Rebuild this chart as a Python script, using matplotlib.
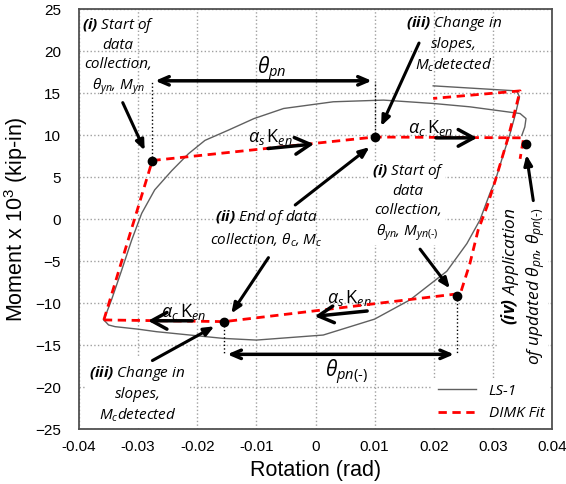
import matplotlib.pyplot as plt
from matplotlib.lines import Line2D

# LS-1 test data
ls1_up_x = [-0.0358, -0.0345, -0.0328, -0.0311, -0.0294, -0.0272, -0.0243, -0.0215, -0.0187,
            -0.0148, -0.0104, -0.0054, 0.0030, 0.0115, 0.0199, 0.0261, 0.0346, 0.0356, 0.0354, 0.0349]
ls1_up_y = [-12.0, -9.6, -6.1, -2.5, 0.7, 3.5, 5.8, 7.8, 9.4,
            10.6, 12.0, 13.2, 14.0, 14.2, 13.8, 13.4, 12.6, 12.0, 11.0, 10.0]
ls1_lo_x = [-0.0358, -0.0350, -0.0339, -0.0300, -0.0269, -0.0156, -0.0100, 0.0013, 0.0100,
            0.0160, 0.0222, 0.0256, 0.0278, 0.0295, 0.0304, 0.0318, 0.0329, 0.0338, 0.0345,
            0.0340, 0.0199]
ls1_lo_y = [-12.0, -12.6, -12.8, -13.1, -13.4, -14.2, -14.4, -13.8, -11.9,
            -9.6, -6.2, -2.9, -0.1, 3.1, 4.6, 7.8, 10.2, 12.5, 14.6,
            15.3, 15.9]

# DIMK fit
dimk_up_x = [-0.0358, -0.0276, 0.0100, 0.0352, 0.0346]
dimk_up_y = [-12.0, 7.0, 9.8, 9.7, 7.2]
dimk_lo_x = [-0.0358, -0.0154, 0.0245, 0.0261, 0.0275, 0.0290, 0.0304, 0.0326, 0.0346, 0.0199]
dimk_lo_y = [-12.0, -12.2, -8.85, -5.3, -1.3, 1.5, 4.6, 9.8, 15.3, 14.4]

# key points
pts_x = [-0.0276, 0.0100, -0.0154, 0.0239, 0.0356]
pts_y = [7.0, 9.8, -12.2, -9.1, 9.0]

xticks = [-0.04, -0.03, -0.02, -0.01, 0, 0.01, 0.02, 0.03, 0.04]
xticklabels = ['-0.04', '-0.03', '-0.02', '-0.01', '0', '0.01', '0.02', '0.03', '0.04']
yticks = [-25, -20, -15, -10, -5, 0, 5, 10, 15, 20, 25]

plt.rcParams['font.family'] = ['Liberation Sans', 'DejaVu Sans']
plt.rcParams['mathtext.fontset'] = 'custom'
plt.rcParams['mathtext.rm'] = 'Open Sans'
plt.rcParams['mathtext.it'] = 'Open Sans:italic'
plt.rcParams['mathtext.bf'] = 'Open Sans:italic:bold'

fig = plt.figure(figsize=(5.66, 4.84), dpi=100)
ax = fig.add_axes([0.1396, 0.1136, 0.8357, 0.8668])

ax.plot(ls1_up_x, ls1_up_y, color='#606060', lw=1.0, zorder=3)
ax.plot(ls1_lo_x, ls1_lo_y, color='#606060', lw=1.0, zorder=3)
ax.plot(dimk_up_x, dimk_up_y, color='red', lw=2, ls=(0, (3, 2)), zorder=4)
ax.plot(dimk_lo_x, dimk_lo_y, color='red', lw=2, ls=(0, (3, 2)), zorder=4)
ax.plot(pts_x, pts_y, 'o', color='black', ms=6, zorder=6)

ax.set_xlim(-0.04, 0.04)
ax.set_ylim(-25, 25)
ax.set_xticks(xticks)
ax.set_xticklabels(xticklabels)
ax.set_yticks(yticks)
ax.tick_params(length=0, labelsize=11)
ax.tick_params(axis='x', pad=8)
ax.tick_params(axis='y', pad=13)
ax.grid(True, color='#a0a0a0', ls=':', lw=1)
ax.set_axisbelow(True)
for s in ax.spines.values():
    s.set_color('#505050')
    s.set_linewidth(1.3)
ax.set_xlabel('Rotation (rad)', fontsize=15.5, labelpad=4)
ax.set_ylabel('Moment x 10$^{\\mathregular{3}}$ (kip-in)', fontsize=15.5, labelpad=4)

tf = dict(family=['Open Sans', 'DejaVu Sans'], style='italic', fontsize=11)
tf_big = dict(family=['Open Sans', 'DejaVu Sans'], style='italic', fontsize=15)

# dotted guides and theta_pn arrows
ax.plot([pts_x[0], pts_x[0]], [7.0, 16.5], color='black', ls=':', lw=1, zorder=5)
ax.plot([pts_x[1], pts_x[1]], [9.8, 16.5], color='black', ls=':', lw=1, zorder=5)
ax.annotate('', xy=(pts_x[0], 16.5), xytext=(pts_x[1], 16.5),
            arrowprops=dict(arrowstyle='<->,head_length=0.7,head_width=0.3', color='black', lw=2.5))
ax.text(-0.0074, 17.8, r'$\theta_{pn}$', ha='center', va='center', **tf_big)
ax.plot([pts_x[2], pts_x[2]], [-12.2, -16.1], color='black', ls=':', lw=1, zorder=5)
ax.plot([pts_x[3], pts_x[3]], [-9.1, -16.1], color='black', ls=':', lw=1, zorder=5)
ax.annotate('', xy=(pts_x[2], -16.1), xytext=(pts_x[3], -16.1),
            arrowprops=dict(arrowstyle='<->,head_length=0.7,head_width=0.3', color='black', lw=2.5))
ax.text(0.0053, -18.3, r'$\theta_{pn(\text{-})}$', ha='center', va='center', **tf_big)

# stiffness arrows
kop = dict(arrowstyle='->,head_length=1.1,head_width=0.6', color='black', lw=2.5)
ax.annotate('', xy=(0.0002, 9.0), xytext=(-0.0085, 8.4), arrowprops=kop, zorder=7)
ax.text(-0.0077, 9.8, r'$\alpha_s\,\mathrm{K}_{en}$', ha='center', va='center', fontsize=13)
ax.annotate('', xy=(0.0278, 9.7), xytext=(0.0199, 9.7), arrowprops=kop, zorder=7)
ax.text(0.0195, 10.9, r'$\alpha_c\,\mathrm{K}_{en}$', ha='center', va='center', fontsize=13)
ax.annotate('', xy=(-0.0288, -12.1), xytext=(-0.0204, -12.1), arrowprops=kop, zorder=7)
ax.text(-0.0224, -11.0, r'$\alpha_c\,\mathrm{K}_{en}$', ha='center', va='center', fontsize=13)
ax.annotate('', xy=(-0.0006, -11.6), xytext=(0.0092, -10.9), arrowprops=kop, zorder=7)
ax.text(0.0058, -9.4, r'$\alpha_s\,\mathrm{K}_{en}$', ha='center', va='center', fontsize=13)

# callout text
aop = dict(arrowstyle='-|>,head_length=0.6,head_width=0.25', color='black', lw=2.2)
ax.text(-0.0334, 19.4, '$\\mathbf{(i)}$ Start of\ndata\ncollection,\n$\\theta_{yn}$, $M_{yn}$',
        ha='center', va='center', linespacing=1.35, **tf)
ax.annotate('', xy=(-0.0287, 7.9), xytext=(-0.0328, 14.2), arrowprops=aop, zorder=7)

ax.text(0.0234, 20.9, '$\\mathbf{(iii)}$ Change in\nslopes,\n$M_c$detected',
        ha='center', va='center', linespacing=1.35, **tf)
ax.annotate('', xy=(0.0109, 10.8), xytext=(0.0177, 21.3), arrowprops=aop, zorder=7)

ax.text(-0.0083, -1.15, '$\\mathbf{(ii)}$ End of data\ncollection, $\\theta_c$, $M_c$',
        ha='center', va='center', linespacing=1.35, **tf)
ax.annotate('', xy=(0.0095, 8.8), xytext=(-0.0038, 1.5), arrowprops=aop, zorder=7)
ax.annotate('', xy=(-0.0145, -11.5), xytext=(-0.0077, -4.3), arrowprops=aop, zorder=7)

ax.text(0.0156, 2.0, '$\\mathbf{(i)}$ Start of\ndata\ncollection,\n$\\theta_{yn}$, $M_{yn(\\text{-})}$',
        ha='center', va='center', linespacing=1.35, zorder=5,
        bbox=dict(facecolor='white', edgecolor='none', pad=1), **tf)
ax.annotate('', xy=(0.0230, -8.5), xytext=(0.0174, -3.3), arrowprops=aop, zorder=7)

ax.text(-0.0301, -20.8, '$\\mathbf{(iii)}$ Change in\nslopes,\n$M_c$detected',
        ha='center', va='center', linespacing=1.35, zorder=5,
        bbox=dict(facecolor='white', edgecolor='none', pad=3), **tf)
ax.annotate('', xy=(-0.0167, -12.6), xytext=(-0.0280, -17.0), arrowprops=aop, zorder=7)

ax.text(0.0351, -8.0, '$\\mathbf{(iv)}$ Application\nof updated $\\theta_{pn}$, $\\theta_{pn(\\text{-})}$',
        ha='center', va='center', rotation=90, linespacing=1.2, multialignment='right', zorder=5,
        bbox=dict(facecolor='white', edgecolor='none', pad=1),
        family=['Open Sans', 'DejaVu Sans'], style='italic', fontsize=12.5)
ax.annotate('', xy=(0.0356, 8.0), xytext=(0.0369, 1.9), arrowprops=aop, zorder=7)

handles = [Line2D([], [], color='#606060', lw=1.0),
           Line2D([], [], color='red', lw=2, ls=(0, (3, 2)))]
leg = ax.legend(handles, ['LS-1', 'DIMK Fit'], loc='lower right', frameon=True,
                prop=dict(family='Open Sans', style='italic', size=11),
                handlelength=2.5, borderaxespad=0.1)
leg.get_frame().set_edgecolor('none')
leg.get_frame().set_facecolor('white')
leg.get_frame().set_alpha(1)

fig.savefig('out.png', dpi=100)
